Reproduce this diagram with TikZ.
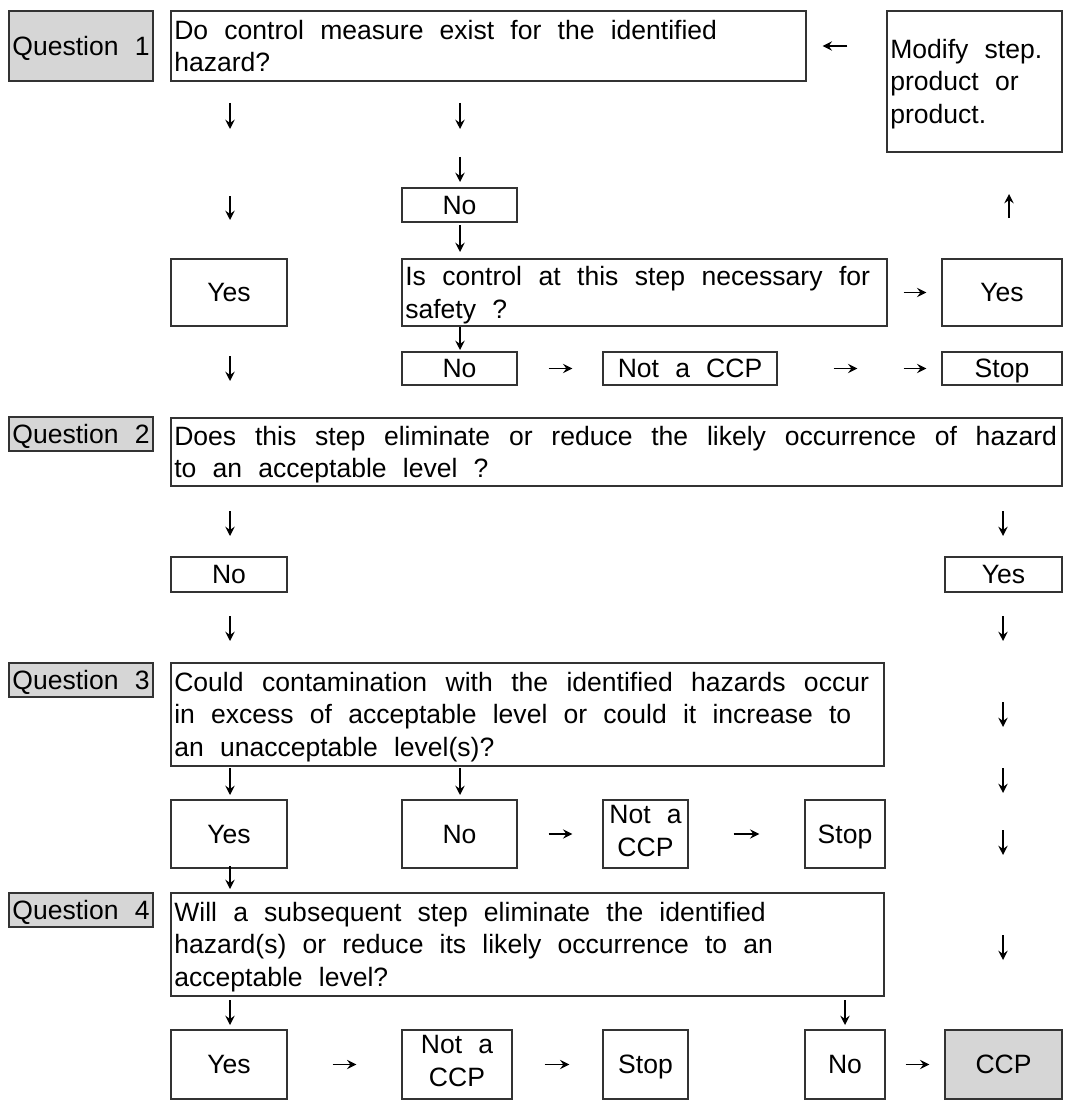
\documentclass[tikz,border=0pt]{standalone}
\usepackage{fontspec}
\setmainfont{Liberation Sans}[WordSpace=2.2]
\usepackage{xcolor}
\usetikzlibrary{arrows.meta}

\definecolor{boxline}{gray}{0.2}
\definecolor{qfill}{gray}{0.84}
\newcommand\jline[2]{\makebox[#1][s]{#2}}
\newcommand\vstrut{\rule[-5.15pt]{0pt}{24.5pt}}

\begin{document}
\begin{tikzpicture}[x=0.75pt,y=-0.75pt,
  box/.style={draw=boxline,line width=1pt,inner sep=0pt,align=center,
    font=\fontsize{19.9}{24.5}\selectfont,
    execute at begin node={\spaceskip=0pt\xspaceskip=0pt\vstrut},
    execute at end node=\vstrut},
  qbox/.style={box,fill=qfill,minimum width=108pt,minimum height=25.5pt},
  tbox/.style={box,align=left,inner xsep=2.5pt},
  arw/.style={-{Stealth[length=7pt,width=7pt,inset=2.5pt]},line width=1.1pt}]
\useasboundingbox (0,0) rectangle (1065,1102);

% question labels
\node[qbox,minimum height=52.5pt] (lbl1) at (81,46) {Question 1};
\node[qbox] (lbl2) at (81,434) {Question 2};
\node[qbox] (lbl3) at (81,680) {Question 3};
\node[qbox] (lbl4) at (81,910) {Question 4};

% question texts
\node[tbox,minimum width=476.25pt,text width=471.25pt,minimum height=52.5pt] (q1) at (488.5,46)
  {Do control measure exist for the identified\\hazard?};
\node[tbox,minimum width=131.25pt,text width=126.25pt,minimum height=105.75pt] (modify) at (974.5,81.5)
  {Modify step.\\product or\\product.};
\node[tbox,minimum width=363.75pt,text width=358.75pt,minimum height=50.25pt] (ctl) at (644.5,292.5)
  {\jline{348.5pt}{Is control at this step necessary for}\\safety ?};
\node[tbox,minimum width=668.25pt,text width=663.25pt,minimum height=51pt] (q2) at (616.5,452)
  {\jline{662pt}{Does this step eliminate or reduce the likely occurrence of hazard}\\to an acceptable level ?};
\node[tbox,minimum width=534.75pt,text width=529.75pt,minimum height=77.25pt] (q3) at (527.5,714.5)
  {\jline{521pt}{Could contamination with the identified hazards occur}\\in excess of acceptable level or could it increase to\\an unacceptable level(s)?};
\node[tbox,minimum width=534.75pt,text width=529.75pt,minimum height=77.25pt] (q4) at (527.5,944.5)
  {Will a subsequent step eliminate the identified\\hazard(s) or reduce its likely occurrence to an\\acceptable level?};

% answers, question 1
\node[box,minimum width=86.25pt,minimum height=25.5pt] (no1) at (459.5,205) {No};
\node[box,minimum width=87pt,minimum height=50.25pt] (yes1) at (229,292.5) {Yes};
\node[box,minimum width=90pt,minimum height=50.25pt] (yes2) at (1002,292.5) {Yes};
\node[box,minimum width=86.25pt,minimum height=24.75pt] (no2) at (459.5,368.5) {No};
\node[box,minimum width=130.5pt,minimum height=24.75pt] (notccp1) at (690,368.5) {Not a CCP};
\node[box,minimum width=90pt,minimum height=24.75pt] (stop1) at (1002,368.5) {Stop};

% answers, question 2
\node[box,minimum width=87pt,minimum height=26.25pt] (no3) at (229,574.5) {No};
\node[box,minimum width=87.75pt,minimum height=26.25pt] (yes3) at (1003.5,574.5) {Yes};

% answers, question 3
\node[box,minimum width=87pt,minimum height=51pt] (yes4) at (229,834) {Yes};
\node[box,minimum width=86.25pt,minimum height=51pt] (no4) at (459.5,834) {No};
\node[box,minimum width=63.75pt,minimum height=51pt] (notccp2) at (645.5,834) {Not a\\CCP};
\node[box,minimum width=60pt,minimum height=51pt] (stop2) at (845,834) {Stop};

% answers, question 4
\node[box,minimum width=87pt,minimum height=51.75pt] (yes5) at (229,1064.5) {Yes};
\node[box,minimum width=82.5pt,minimum height=51.75pt] (notccp3) at (457,1064.5) {Not a\\CCP};
\node[box,minimum width=63.75pt,minimum height=51.75pt] (stop3) at (645.5,1064.5) {Stop};
\node[box,minimum width=60pt,minimum height=51.75pt] (no5) at (845,1064.5) {No};
\node[box,fill=qfill,minimum width=87.75pt,minimum height=51.75pt] (ccp) at (1003.5,1064.5) {CCP};

% arrows in the rows
\draw[arw,shorten <=29.25pt,shorten >=12pt] (modify.west |- q1.east) -- (q1.east);
\draw[arw,shorten <=12pt,shorten >=11.25pt] (ctl) -- (yes2);
\draw[arw,shorten <=23.25pt,shorten >=22.5pt] (no2) -- (notccp1);
\draw[arw,shorten <=42pt,shorten >=63pt] (notccp1) -- (stop1);
\draw[arw,shorten <=94.5pt,shorten >=11.25pt] (notccp1) -- (stop1);
\draw[arw,shorten <=23.25pt,shorten >=22.5pt] (no4) -- (notccp2);
\draw[arw,shorten <=33.75pt,shorten >=33.75pt] (notccp2) -- (stop2);
\draw[arw,shorten <=33.75pt,shorten >=33.75pt] (yes5) -- (notccp3);
\draw[arw,shorten <=24pt,shorten >=24.75pt] (notccp3) -- (stop3);
\draw[arw,shorten <=15pt,shorten >=11.25pt] (no5) -- (ccp);

% arrows in the columns
\foreach \n/\x/\ya/\yb in {a1/230/103/129, a2/230/196/220, a3/230/356/381,
    a4/230/511/536, a5/230/616/641, a6/230/768/795, a7/230/866/889, a8/230/1000/1025,
    b1/460/103/129, b2/460/157/182, b3/460/225/252, b4/460/327/350, b5/460/768/795,
    r1/1003/511/536, r2/1003/616/641, r3/1003/702/727, r4/1003/768/793,
    r5/1003/830/855, r6/1003/935/960, c1/845/1000/1025, u1/1009/218/194}
{
  \coordinate (\n-s) at (\x,\ya);
  \coordinate (\n-e) at (\x,\yb);
  \draw[arw] (\n-s) -- (\n-e);
}
\end{tikzpicture}
\end{document}
